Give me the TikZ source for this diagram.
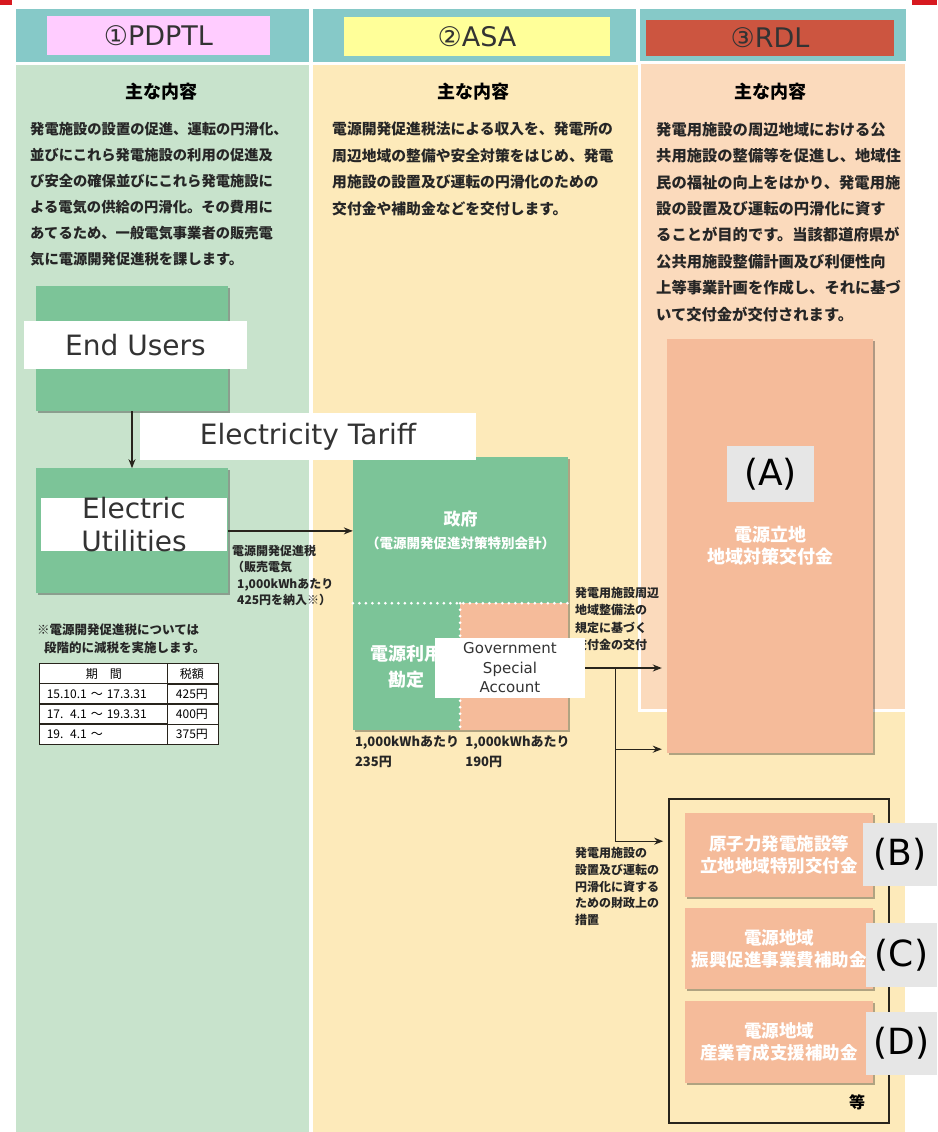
\documentclass[tikz,border=0pt]{standalone}
\usepackage{fontspec}
\setmainfont{Noto Sans CJK JP}
\newfontfamily\lblfont{DejaVu Sans}
\usepackage{xcolor}
\usepackage{tikz}
\usetikzlibrary{positioning, arrows.meta, shadows, matrix}

\definecolor{hdrteal}{RGB}{134,201,200}
\definecolor{colgreen}{RGB}{200,227,204}
\definecolor{colyellow}{RGB}{253,234,186}
\definecolor{colpeach}{RGB}{251,218,188}
\definecolor{boxgreen}{RGB}{124,196,152}
\definecolor{boxsalmon}{RGB}{245,187,154}
\definecolor{tagpink}{RGB}{255,204,255}
\definecolor{tagyellow}{RGB}{255,255,153}
\definecolor{tagred}{RGB}{204,85,64}
\definecolor{taggray}{RGB}{230,230,230}
\definecolor{inkgray}{RGB}{51,51,51}
\definecolor{edgeink}{RGB}{40,36,28}
\definecolor{cornerred}{RGB}{215,25,32}

\begin{document}
\begin{tikzpicture}[
    x=1pt, y=-1pt,
    tag/.style={inner sep=0pt, minimum height=39pt, text=inkgray, font=\lblfont\fontsize{27}{30}\selectfont},
    head/.style={font=\bfseries\fontsize{18}{20}\selectfont},
    para/.style={anchor=north west, inner sep=0pt, align=left, text=black!85, font=\bfseries\fontsize{14.5}{26}\selectfont},
    small/.style={anchor=north west, inner sep=0pt, align=left, text=black!85, font=\bfseries\fontsize{12}{17}\selectfont},
    gbox/.style={fill=boxgreen, inner sep=0pt, text=white, align=center, font=\bfseries\fontsize{17.5}{22}\selectfont,
        drop shadow={shadow xshift=2pt, shadow yshift=-2pt, fill=black, opacity=.3}},
    sbox/.style={gbox, fill=boxsalmon},
    wlbl/.style={fill=white, inner sep=0pt, text=inkgray, font=\lblfont\fontsize{28}{33}\selectfont},
    glbl/.style={fill=taggray, inner sep=0pt, text=black, font=\lblfont\fontsize{36}{40}\selectfont},
    dotline/.style={white, line width=3pt, line cap=round, dash pattern=on 0pt off 6.5pt},
    arr/.style={-{Stealth[length=9pt, width=7pt]}, line width=1.4pt, draw=edgeink}
]

% Page and columns
\fill[white] (0,0) rectangle (937,1132);
\useasboundingbox (0,0) rectangle (937,1132);
\fill[cornerred] (0,0) rectangle (12,5);
\fill[cornerred] (912,0) rectangle (937,5);
\fill[hdrteal] (16,9) rectangle (309,62);
\fill[hdrteal] (313,9) rectangle (636,62);
\fill[hdrteal] (640,9) rectangle (906,62);
\fill[colgreen] (16,65) rectangle (309,1132);
\fill[colyellow] (313,65) rectangle (905,1132);
\filldraw[fill=colpeach, draw=white, line width=3pt] (639,63) rectangle (906,710);

% Column headers
\node[tag, fill=tagpink, minimum width=223pt] (tagA) at (158.5,36) {①PDPTL};
\node[tag, fill=tagyellow, minimum width=266pt] (tagB) at (477,36.5) {②ASA};
\node[tag, fill=tagred, minimum width=248pt, minimum height=36pt] (tagC) at (770,38) {③RDL};

% Main contents
\node[head] (headA) at (161,92) {主な内容};
\node[head] (headB) at (473,92) {主な内容};
\node[head] (headC) at (770,92) {主な内容};

\node[para, font=\bfseries\fontsize{14.3}{26}\selectfont] (textA) at (30,122) {発電施設の設置の促進、運転の円滑化、\\並びにこれら発電施設の利用の促進及\\び安全の確保並びにこれら発電施設に\\よる電気の供給の円滑化。その費用に\\あてるため、一般電気事業者の販売電\\気に電源開発促進税を課します。};
\node[para, font=\bfseries\fontsize{14.8}{26.5}\selectfont] (textB) at (332,122) {電源開発促進税法による収入を、発電所の\\周辺地域の整備や安全対策をはじめ、発電\\用施設の設置及び運転の円滑化のための\\交付金や補助金などを交付します。};
\node[para, font=\bfseries\fontsize{15.3}{26.4}\selectfont] (textC) at (656,122) {発電用施設の周辺地域における公\\共用施設の整備等を促進し、地域住\\民の福祉の向上をはかり、発電用施\\設の設置及び運転の円滑化に資す\\ることが目的です。当該都道府県が\\公共用施設整備計画及び利便性向\\上等事業計画を作成し、それに基づ\\いて交付金が交付されます。};

% Left column: users and utilities
\node[gbox, minimum width=192pt, minimum height=125pt] (users) at (132,348.5) {};
\node[gbox, minimum width=192pt, minimum height=125pt, below=57pt of users] (util) {};
\node[small, font=\bfseries\fontsize{12}{16.5}\selectfont] (taxLbl) at (232,545) {電源開発促進税\\（販売電気\\\hspace*{5pt}1,000kWhあたり\\\hspace*{5pt}425円を納入※）};

% Tax rate note
\node[small, font=\bfseries\fontsize{12.5}{18}\selectfont] (note) at (37,624) {※電源開発促進税については\\\hspace*{7pt}段階的に減税を実施します。};
\matrix (rates) [matrix of nodes, anchor=north west, inner sep=0pt, row sep=-1.2pt, column sep=-1.2pt,
    nodes={draw=edgeink, line width=1.2pt, fill=white, minimum height=20pt, inner ysep=0pt, font=\fontsize{12}{14}\selectfont},
    column 1/.style={nodes={text width=114pt, inner xsep=7pt, align=left}},
    column 2/.style={nodes={minimum width=51pt, align=center}}] at (39,663) {
    |[align=center]| 期\quad 間 & 税額 \\
    15.10.1 ～ 17.3.31 & 425円 \\
    17.\hphantom{1}4.1 ～ 19.3.31 & 400円 \\
    19.\hphantom{1}4.1 ～ & 375円 \\
};

% Special account
\node[gbox, minimum width=215pt, minimum height=146pt] (gov) at (460.5,530) {\fontsize{17}{20}\selectfont 政府\\[1pt]\fontsize{13.5}{18}\selectfont（電源開発促進対策特別会計）};
\node[gbox, anchor=north west, minimum width=107pt, minimum height=127pt, font=\bfseries\fontsize{18}{26}\selectfont] (useAcc) at (gov.south west) {電源利用\\勘定};
\node[sbox, anchor=north west, minimum width=108pt, minimum height=127pt] (siteAcc) at (useAcc.north east) {};
\draw[dotline] (useAcc.north west) -- (siteAcc.north east);
\draw[dotline] (siteAcc.north west) -- (siteAcc.south west);
\node[small, font=\bfseries\fontsize{13}{20}\selectfont, below right=5pt and 2pt of useAcc.south west] (useRate) {1,000kWhあたり\\235円};
\node[small, font=\bfseries\fontsize{13}{20}\selectfont, below right=5pt and 5pt of siteAcc.south west] (siteRate) {1,000kWhあたり\\190円};

\node[small, font=\bfseries\fontsize{12}{17.5}\selectfont] (grantLbl) at (575,587) {発電用施設周辺\\地域整備法の\\規定に基づく\\交付金の交付};
\node[wlbl, font=\lblfont\fontsize{15}{19.5}\selectfont, align=center, minimum width=150pt, minimum height=60pt] (gsa) at (510,668) {Government\\Special\\Account};

% Right column: grants
\node[sbox, minimum width=206pt, minimum height=414pt, font=\bfseries\fontsize{18}{22}\selectfont] (grantA) at (770,546) {電源立地\\地域対策交付金};
\node[glbl, minimum width=87pt, minimum height=56pt] (aLbl) at (770.5,474) {(A)};

\node[draw=edgeink, line width=1.6pt, minimum width=220pt, minimum height=324pt] (frame) at (779,961) {};
\node[sbox, minimum width=188pt, minimum height=84pt] (grantB) at (779,855) {原子力発電施設等\\立地地域特別交付金};
\node[sbox, minimum width=188pt, minimum height=81pt, below=11pt of grantB] (grantC) {電源地域\\振興促進事業費補助金};
\node[sbox, minimum width=188pt, minimum height=82pt, below=11pt of grantC] (grantD) {電源地域\\産業育成支援補助金};
\node[font=\bfseries\fontsize{16}{16}\selectfont] (etc) at (857,1102) {等};
\node[glbl, minimum width=74pt, minimum height=63pt] (bLbl) at (900,854.5) {(B)};
\node[glbl, minimum width=71pt, minimum height=64pt] (cLbl) at (901.5,955) {(C)};
\node[glbl, minimum width=71pt, minimum height=63pt] (dLbl) at (901.5,1043.5) {(D)};

\node[small, font=\bfseries\fontsize{12}{16.8}\selectfont] (measLbl) at (575,847) {発電用施設の\\設置及び運転の\\円滑化に資する\\ための財政上の\\措置};

% Arrows
\draw[arr] (users) -- (util);
\draw[arr] (util.east) -- (util.east -| gov.west);
\coordinate (split) at ([xshift=30pt]gsa.east);
\draw[arr, shorten >=5pt] (gsa.east) -- (gsa.east -| grantA.west);
\draw[arr, shorten >=5pt] (split) |- ([yshift=4pt]grantA.south west);
\draw[arr, shorten >=5pt] (split) |- ([yshift=-43pt]frame.north west);

% English labels
\node[wlbl, minimum width=223pt, minimum height=48pt] (usersLbl) at (135.5,345) {End Users};
\node[wlbl, minimum width=336pt, minimum height=47pt] (tariffLbl) at (308,436.5) {Electricity Tariff};
\node[wlbl, minimum width=186pt, minimum height=53pt] (utilLbl) at (134,524.5) {};
\node[text=inkgray, font=\lblfont\fontsize{28}{33}\selectfont, align=center] (utilTxt) at (utilLbl.center) {Electric\\Utilities};

\end{tikzpicture}
\end{document}
